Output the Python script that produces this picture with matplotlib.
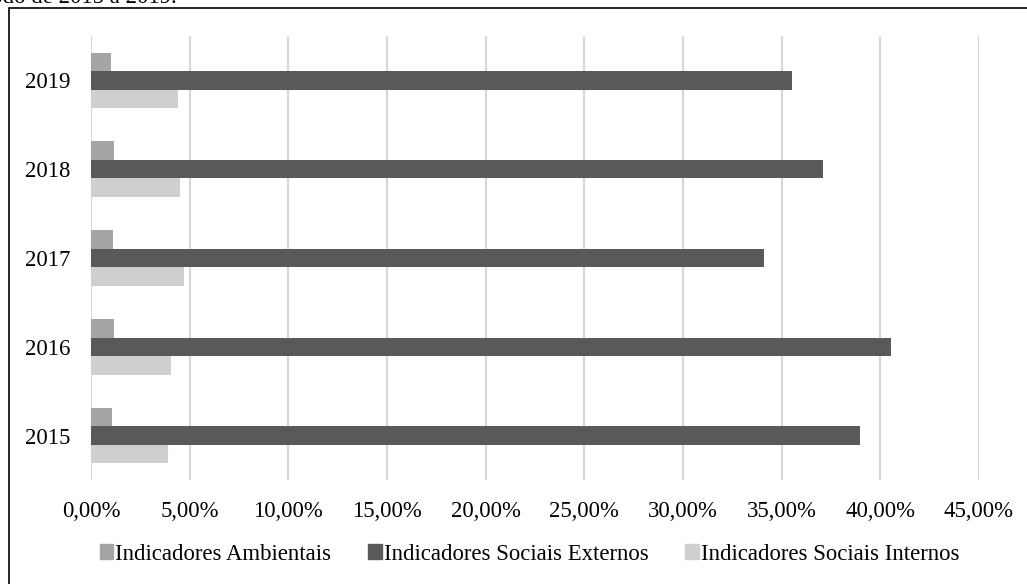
import numpy as np
import matplotlib.pyplot as plt
from matplotlib.patches import Patch, Rectangle

plt.rcParams['font.family'] = ['Liberation Serif', 'DejaVu Serif']

# Share of disclosures per indicator group, by year
anos = ['2015', '2016', '2017', '2018', '2019']
ambientais = [1.05, 1.19, 1.10, 1.15, 1.03]
sociais_externos = [38.99, 40.56, 34.13, 37.10, 35.54]
sociais_internos = [3.91, 4.03, 4.72, 4.50, 4.40]
series_nomes = ['Indicadores Ambientais', 'Indicadores Sociais Externos',
                'Indicadores Sociais Internos']
cores = ['#a5a5a5', '#595959', '#d0cece']
xticks = np.arange(0, 46, 5)

W, H = 1027, 584
fs = 16.4
fig = plt.figure(figsize=(W / 100, H / 100), dpi=100)
ax = fig.add_axes([91 / W, 1 - 480 / H, (979 - 91) / W, (480 - 36) / H])

y = np.arange(len(anos))
h = 0.208
ax.barh(y + h, ambientais, height=h, color=cores[0], zorder=3)
ax.barh(y, sociais_externos, height=h, color=cores[1], zorder=3)
ax.barh(y - h, sociais_internos, height=h, color=cores[2], zorder=3)

ax.set_xlim(0, 45)
ax.set_ylim(-0.5, len(anos) - 0.5)
ax.set_xticks(xticks)
ax.set_xticklabels([f'{v:.2f}%'.replace('.', ',') for v in xticks], fontsize=fs)
ax.set_yticks(y)
ax.set_yticklabels(anos, fontsize=fs)
ax.tick_params(length=0)
ax.tick_params(axis='x', pad=15)
ax.tick_params(axis='y', pad=15)
ax.grid(axis='x', color='#d9d9d9', linewidth=1.6, zorder=0)
for s in ax.spines.values():
    s.set_visible(False)

handles = [Patch(color=c) for c in cores]
fig.legend(handles, series_nomes, loc='center',
           bbox_to_anchor=(0.5 + 16 / W, 1 - 554 / H),
           ncol=3, frameon=False, fontsize=fs, handlelength=0.6, handleheight=0.6,
           handletextpad=0.1, columnspacing=1.6)

# outer frame and the tail of the caption line above it
fig.patches.append(Rectangle((9 / W, -0.1), 2, 1.1 - 8 / H, transform=fig.transFigure,
                             fill=False, edgecolor='black', linewidth=1.2))
fig.text(177 / W, 1 - 3 / H, 'período de 2015 a 2019.', ha='right', va='baseline',
         fontsize=fs)

fig.savefig('out.png', dpi=100)
